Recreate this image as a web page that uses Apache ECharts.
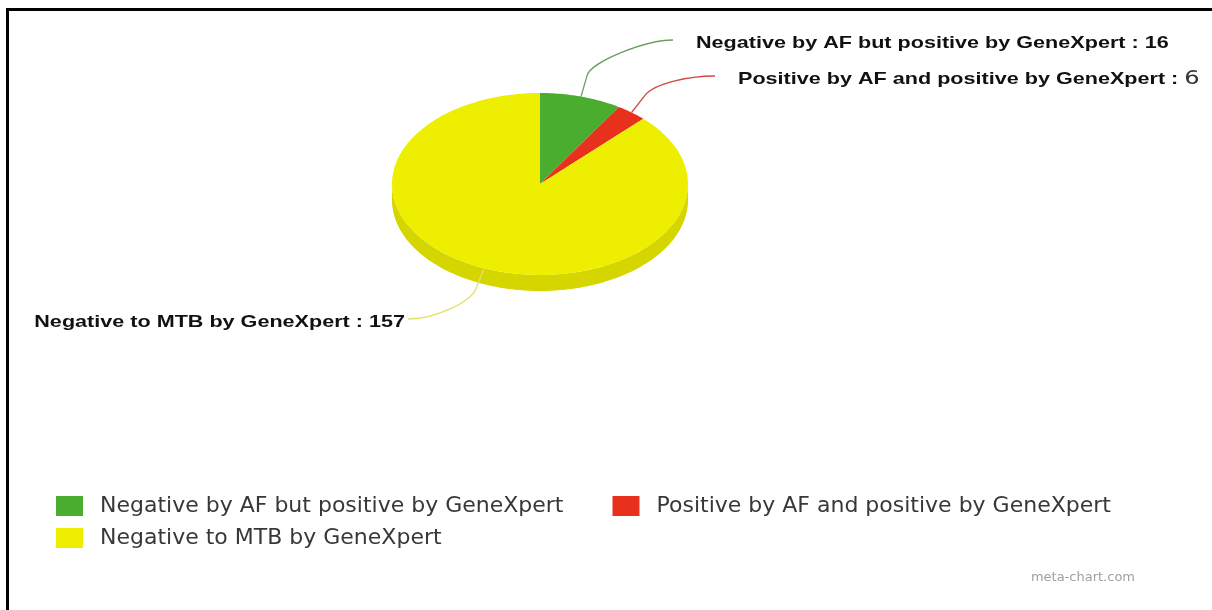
<!DOCTYPE html>
<html>
<head>
<meta charset="utf-8">
<script src="https://cdn.jsdelivr.net/npm/echarts@6.0.0/dist/echarts.min.js"></script>
<style>
html,body{margin:0;padding:0;background:#fff;overflow:hidden;}
#c{position:absolute;left:0;top:0;width:1212px;height:610px;}
#frame{position:absolute;left:6px;top:8px;width:1230px;height:630px;border-top:3px solid #000;border-left:3px solid #000;pointer-events:none;}
</style>
</head>
<body>
<div id="c"></div>
<div id="frame"></div>
<script>
// ---- data ----
const categories = [
  'Negative by AF but positive by GeneXpert',
  'Positive by AF and positive by GeneXpert',
  'Negative to MTB by GeneXpert'
];
const values = [16, 6, 157];

// ---- style ----
const colors = ['#4bad30', '#e8311c', '#eeee00'];
const sideColors = ['#3b8f25', '#bf2413', '#d5d500'];
const lineColors = ['#6aa060', '#d04a44', '#e2e26a'];
const PIE = { cx: 540, cy: 184, rx: 148, ry: 91, depth: 16 };
// label end point of the leader line, relative to the pie centre
const LABEL_END = [[133, -144], [175, -108], [-132, 135]];
const LABEL_FONT = { fontFamily: 'Liberation Sans, Arial, sans-serif', fontWeight: 'bold', fontSize: 17, stretch: 1.27 };

const total = values.reduce((a, b) => a + b, 0);
const starts = [];
(function () { let acc = 0; values.forEach(v => { starts.push(acc / total * 360); acc += v; }); })();

function pt(deg, dy) {
  const r = deg * Math.PI / 180;
  return [PIE.cx + PIE.rx * Math.sin(r), PIE.cy - PIE.ry * Math.cos(r) + (dy || 0)];
}
function arc(a0, a1, dy) {
  const pts = [];
  const n = Math.max(2, Math.ceil((a1 - a0) / 1));
  for (let k = 0; k <= n; k++) pts.push(pt(a0 + (a1 - a0) * k / n, dy));
  return pts;
}

function makeRender(i) {
  return function (params, api) {
    const v = api.value(0);
    const a0 = starts[i];
    const a1 = a0 + v / total * 360;
    const children = [];
    // side (front half only)
    const s0 = Math.max(a0, 90), s1 = Math.min(a1, 270);
    if (s1 > s0) {
      const top = arc(s0, s1, 0);
      const bot = arc(s0, s1, PIE.depth).reverse();
      children.push({ type: 'polygon', z2: 1, shape: { points: top.concat(bot) }, style: { fill: sideColors[i] } });
    }
    // top surface
    children.push({ type: 'polygon', z2: 2, shape: { points: [[PIE.cx, PIE.cy]].concat(arc(a0, a1, 0)) }, style: { fill: colors[i] } });
    // leader line
    const m = (a0 + a1) / 2, mr = m * Math.PI / 180;
    const A = pt(m, 0);
    const u = [Math.sin(mr), -Math.cos(mr)];
    const p1 = [A[0] + u[0] * 22, A[1] + u[1] * 22];
    const c1 = [p1[0] + u[0] * 14, p1[1] + u[1] * 14];
    const E = [PIE.cx + LABEL_END[i][0], PIE.cy + LABEL_END[i][1]];
    const side = E[0] >= PIE.cx ? 1 : -1;
    const c2 = [E[0] - side * 28, E[1]];
    const d = 'M' + A.join(',') + ' L' + p1.join(',') + ' C' + c1.join(',') + ' ' + c2.join(',') + ' ' + E.join(',');
    children.push({ type: 'path', z2: 3, shape: { pathData: d }, style: { fill: 'none', stroke: lineColors[i], lineWidth: 1.3 } });
    // label
    const isRed = i === 1;
    const txt = isRed ? categories[i] + ' : {v|' + v + '}' : categories[i] + ' : ' + v;
    children.push({
      type: 'text', z2: 4,
      x: side > 0 ? E[0] + 23 : E[0] - 3,
      y: E[1] + 3,
      scaleX: LABEL_FONT.stretch,
      style: {
        text: txt,
        fill: '#111',
        fontFamily: LABEL_FONT.fontFamily,
        fontWeight: LABEL_FONT.fontWeight,
        fontSize: LABEL_FONT.fontSize,
        align: side > 0 ? 'left' : 'right',
        verticalAlign: 'middle',
        rich: { v: { fontFamily: 'DejaVu Sans, sans-serif', fontWeight: 'normal', fontSize: 19, fill: '#333' } }
      }
    });
    return { type: 'group', children: children };
  };
}

const series = categories.map((name, i) => ({
  type: 'custom',
  name: name,
  coordinateSystem: 'none',
  itemStyle: { color: colors[i] },
  data: [[values[i]]],
  renderItem: makeRender(i),
  silent: true,
  animation: false
}));

const legendText = { fontFamily: 'DejaVu Sans, sans-serif', fontSize: 22, color: '#383838', padding: [0, 0, 0, 12] };
const chart = echarts.init(document.getElementById('c'), null, { renderer: 'canvas' });
chart.setOption({
  backgroundColor: '#fff',
  animation: false,
  title: {
    text: 'meta-chart.com', right: 77, top: 571, padding: 0,
    textStyle: { fontFamily: 'DejaVu Sans, sans-serif', fontSize: 13, fontWeight: 'normal', color: '#a0a0a0' }
  },
  legend: [
    { data: [categories[0], categories[1]], left: 56, top: 495, padding: 0, icon: 'rect', itemWidth: 27, itemHeight: 20, itemGap: 49, selectedMode: false, textStyle: legendText },
    { data: [categories[2]], left: 56, top: 527, padding: 0, icon: 'rect', itemWidth: 27, itemHeight: 20, itemGap: 49, selectedMode: false, textStyle: legendText }
  ],
  series: series
});
</script>
</body>
</html>
